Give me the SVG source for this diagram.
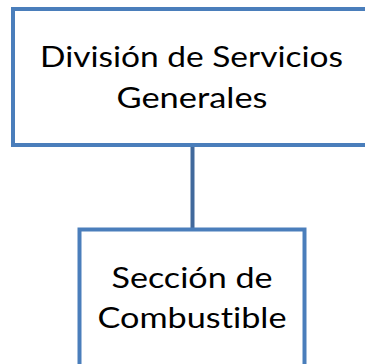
<svg xmlns="http://www.w3.org/2000/svg" width="365" height="364" viewBox="0 0 365 364">
<style>
.box{fill:#ffffff;stroke:#4A7EBB;stroke-width:4}
.lbl{font-family:Lato,"Open Sans","Liberation Sans",sans-serif;font-size:28px;fill:#000000;text-anchor:middle;font-variant-ligatures:none;font-feature-settings:"liga" 0}
.conn{stroke:#41699C;stroke-width:4;fill:none}
</style>
<rect width="365" height="364" fill="#ffffff"/>
<g id="connectors">
<line class="conn" x1="192.5" y1="147" x2="192.5" y2="228"/>
</g>
<g id="node-division">
<rect class="box" x="13" y="9" width="362" height="136"/>
<text class="lbl" x="191.5" y="67" textLength="303" lengthAdjust="spacingAndGlyphs">División de Servicios</text>
<text class="lbl" x="192" y="108" textLength="151" lengthAdjust="spacingAndGlyphs">Generales</text>
</g>
<g id="node-seccion">
<rect class="box" x="79.5" y="229.5" width="225" height="150"/>
<text class="lbl" x="192" y="288" textLength="161" lengthAdjust="spacingAndGlyphs">Sección de</text>
<text class="lbl" x="192" y="328" textLength="189" lengthAdjust="spacingAndGlyphs">Combustible</text>
</g>
</svg>
